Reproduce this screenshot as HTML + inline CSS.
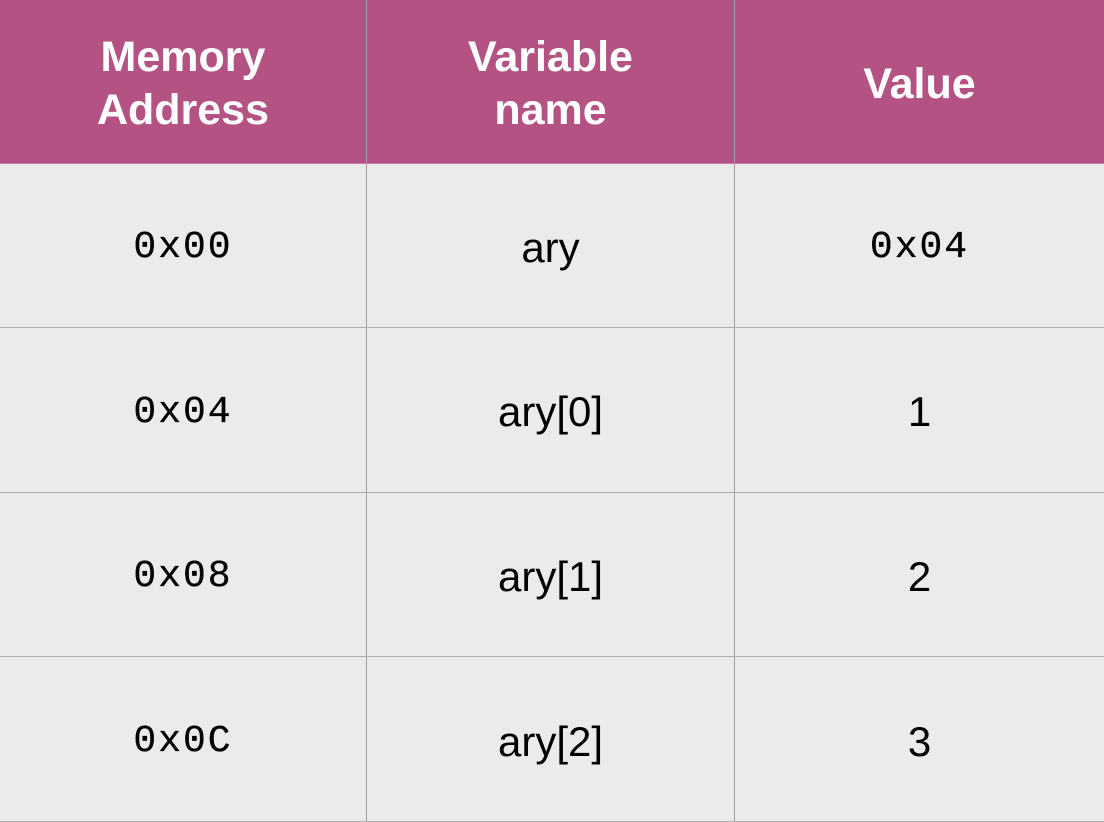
<!DOCTYPE html>
<html><head><meta charset="utf-8"><style>
html,body{margin:0;padding:0;background:#fff;}
.wrap{position:relative;width:1104px;height:822px;overflow:hidden;background:#ebebeb;}
.c{position:absolute;display:flex;align-items:center;justify-content:center;text-align:center;color:#000;padding-top:4px;box-sizing:border-box;}
.h{background:#b35283;color:#fff;font:bold 43px/53px "Liberation Sans",sans-serif;padding-top:5px;}
.s{font:42px "Liberation Sans",sans-serif;}
.m{font:38px "Liberation Mono",monospace;letter-spacing:2px;-webkit-text-stroke:0.3px #000;}
.vl{position:absolute;top:0;width:1px;height:822px;background:#a0a0a0;}
.hl{position:absolute;left:0;width:1104px;height:1px;background:#b0b0b0;}
</style></head><body><div class="wrap">
<div class="c h" style="left:0;top:0;width:1104px;height:163px;"></div>
<div class="c h" style="left:0;top:0;width:366px;height:163px;">Memory<br>Address</div>
<div class="c h" style="left:367px;top:0;width:367px;height:163px;">Variable<br>name</div>
<div class="c h" style="left:735px;top:0;width:369px;height:163px;">Value</div>

<div class="c m" style="left:0;top:164px;width:366px;height:163px;">0x00</div>
<div class="c s" style="left:367px;top:164px;width:367px;height:163px;">ary</div>
<div class="c m" style="left:735px;top:164px;width:369px;height:163px;">0x04</div>

<div class="c m" style="left:0;top:328px;width:366px;height:164px;">0x04</div>
<div class="c s" style="left:367px;top:328px;width:367px;height:164px;">ary[0]</div>
<div class="c s" style="left:735px;top:328px;width:369px;height:164px;">1</div>

<div class="c m" style="left:0;top:493px;width:366px;height:163px;">0x08</div>
<div class="c s" style="left:367px;top:493px;width:367px;height:163px;">ary[1]</div>
<div class="c s" style="left:735px;top:493px;width:369px;height:163px;">2</div>

<div class="c m" style="left:0;top:657px;width:366px;height:165px;">0x0C</div>
<div class="c s" style="left:367px;top:657px;width:367px;height:165px;">ary[2]</div>
<div class="c s" style="left:735px;top:657px;width:369px;height:165px;">3</div>

<div class="vl" style="left:366px;"></div>
<div class="vl" style="left:734px;"></div>
<div class="hl" style="top:163px;background:#c87aa0;"></div>
<div class="hl" style="top:327px;"></div>
<div class="hl" style="top:492px;"></div>
<div class="hl" style="top:656px;"></div>
<div class="hl" style="top:821px;"></div>
</div></body></html>
